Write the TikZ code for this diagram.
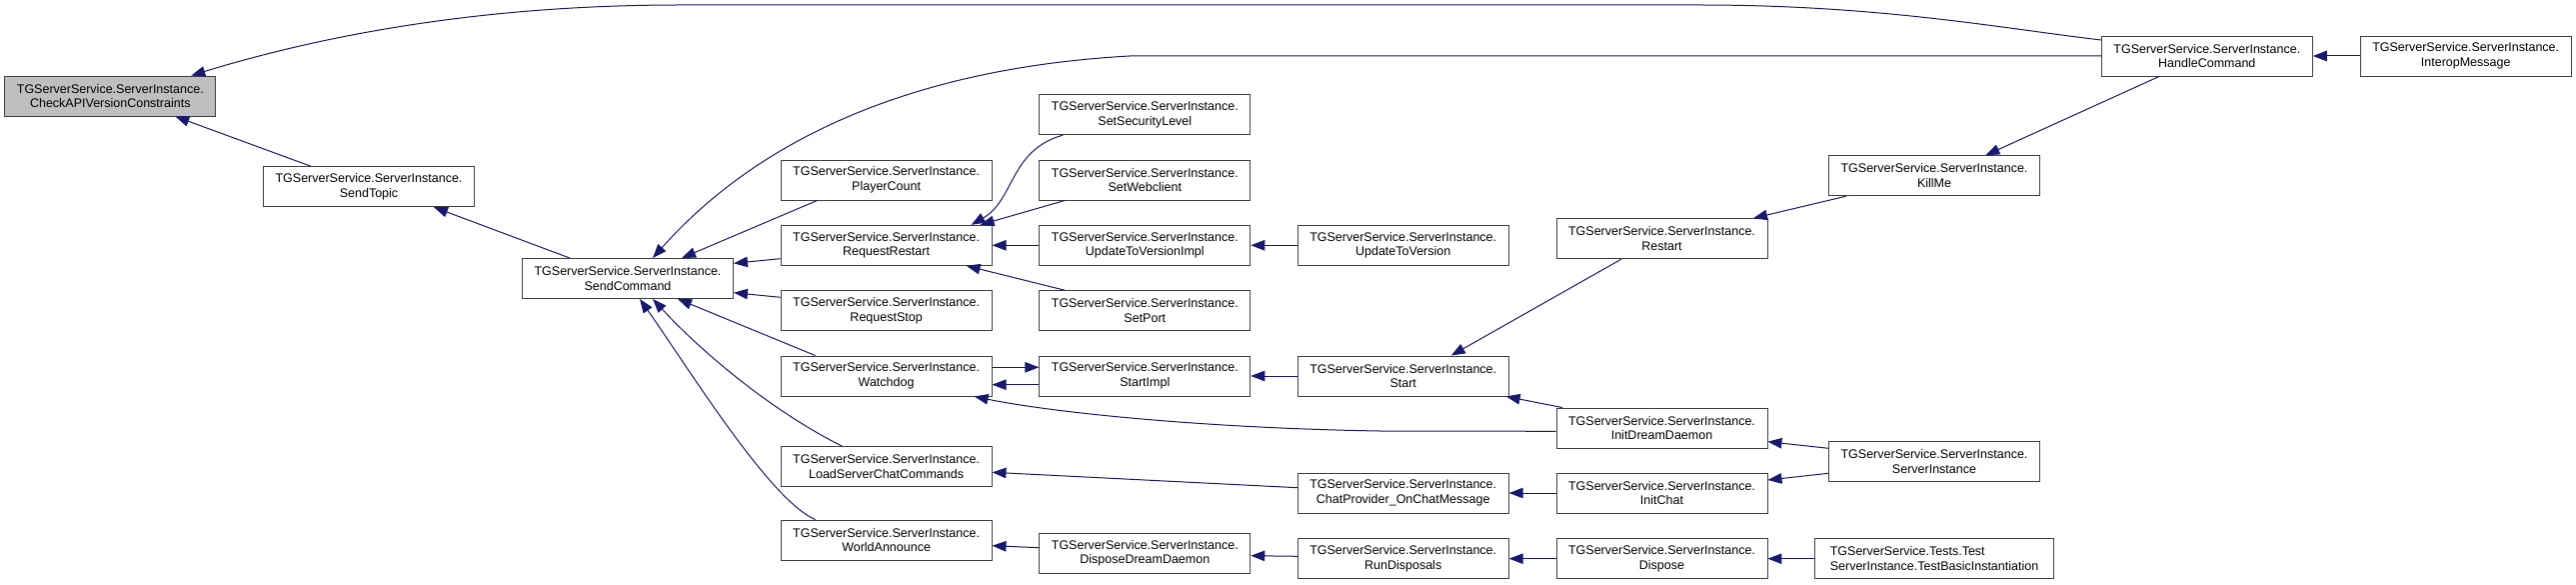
\documentclass[tikz,border=0pt]{standalone}
\usepackage{fontspec}
\setmainfont{Liberation Sans}
\usetikzlibrary{arrows.meta}
\definecolor{edgeblue}{RGB}{25,25,112}

\begin{document}
\begin{tikzpicture}[x=1pt, y=-1pt,
  fn/.style={draw=black!75, fill=white, line width=0.9pt, minimum width=211pt,
    minimum height=40pt, inner sep=0pt, align=center,
    font=\fontsize{12.5}{14.5}\selectfont},
  root/.style={fn, fill=gray!50},
  call/.style={draw=edgeblue, line width=1pt, arrows={Triangle[length=14pt, width=10.5pt]-}},
  callfwd/.style={draw=edgeblue, line width=1pt, arrows={-Triangle[length=14pt, width=10.5pt]}}
]
\useasboundingbox (0,0) rectangle (2577,585);

% Functions, one column per call depth
\node[root] (check) at (110.3,96) {TGServerService.ServerInstance.\\CheckAPIVersionConstraints};
\node[fn] (topic) at (369,186.7) {TGServerService.ServerInstance.\\SendTopic};
\node[fn] (sendcmd) at (628,278.5) {TGServerService.ServerInstance.\\SendCommand};

\node[fn] (players) at (886.6,180) {TGServerService.ServerInstance.\\PlayerCount};
\node[fn] (reqrestart) at (886.6,245.3) {TGServerService.ServerInstance.\\RequestRestart};
\node[fn] (reqstop) at (886.6,310.7) {TGServerService.ServerInstance.\\RequestStop};
\node[fn] (watchdog) at (886.6,376) {TGServerService.ServerInstance.\\Watchdog};
\node[fn] (loadchat) at (886.6,466.7) {TGServerService.ServerInstance.\\LoadServerChatCommands};
\node[fn] (worldann) at (886.6,540) {TGServerService.ServerInstance.\\WorldAnnounce};

\node[fn] (seclevel) at (1145.3,114.7) {TGServerService.ServerInstance.\\SetSecurityLevel};
\node[fn] (webclient) at (1145.3,180) {TGServerService.ServerInstance.\\SetWebclient};
\node[fn] (updimpl) at (1145.3,245.3) {TGServerService.ServerInstance.\\UpdateToVersionImpl};
\node[fn] (setport) at (1145.3,310.7) {TGServerService.ServerInstance.\\SetPort};
\node[fn] (startimpl) at (1145.3,376) {TGServerService.ServerInstance.\\StartImpl};
\node[fn] (disposedd) at (1145.3,553.3) {TGServerService.ServerInstance.\\DisposeDreamDaemon};

\node[fn] (updver) at (1403.7,245.3) {TGServerService.ServerInstance.\\UpdateToVersion};
\node[fn] (start) at (1403.7,376) {TGServerService.ServerInstance.\\Start};
\node[fn] (chatprov) at (1403.7,493) {TGServerService.ServerInstance.\\ChatProvider\_OnChatMessage};
\node[fn] (rundisp) at (1403.7,558.7) {TGServerService.ServerInstance.\\RunDisposals};

\node[fn] (restart) at (1662.5,238.7) {TGServerService.ServerInstance.\\Restart};
\node[fn] (initdd) at (1662.5,428) {TGServerService.ServerInstance.\\InitDreamDaemon};
\node[fn] (initchat) at (1662.5,493) {TGServerService.ServerInstance.\\InitChat};
\node[fn] (dispose) at (1662.5,558.7) {TGServerService.ServerInstance.\\Dispose};

\node[fn] (killme) at (1935,175.7) {TGServerService.ServerInstance.\\KillMe};
\node[fn] (srvinst) at (1935,461.3) {TGServerService.ServerInstance.\\ServerInstance};
\node[fn, minimum width=239pt, align=left] (testbasic) at (1935,558.7) {TGServerService.Tests.Test\\ServerInstance.TestBasicInstantiation};

\node[fn] (handle) at (2207.8,56) {TGServerService.ServerInstance.\\HandleCommand};
\node[fn] (interop) at (2466.7,56) {TGServerService.ServerInstance.\\InteropMessage};

% Callers point back to callees
\draw[call] ([xshift=81]check.north) .. controls (340,30) and (500,5) .. (680,5)
  -- (1700,5) .. controls (1880,5) and (2000,28) .. ([yshift=16]handle.west);
\draw[call] ([xshift=65]check.south) -- ([xshift=-58]topic.north);
\draw[call] ([xshift=65]topic.south) -- ([xshift=-58]sendcmd.north);

\draw[call] ([xshift=25]sendcmd.north) .. controls (740,160) and (880,70) .. (1130,56) -- (handle.west);
\draw[call] ([xshift=54]sendcmd.north) -- ([xshift=-69]players.south);
\draw[call] ([yshift=15.2]sendcmd.east) -- ([yshift=-13.4]reqrestart.west);
\draw[call] ([yshift=-14.2]sendcmd.east) -- ([yshift=13.4]reqstop.west);
\draw[call] ([xshift=50]sendcmd.south) -- ([xshift=-71]watchdog.north);
\draw[call] ([xshift=25]sendcmd.south) .. controls (700,350) and (770,410) .. ([xshift=-44]loadchat.north);
\draw[call] ([xshift=12]sendcmd.south) .. controls (690,370) and (770,500) .. ([xshift=-71]worldann.north);

\draw[call] ([xshift=85]reqrestart.north) .. controls (1015,200) and (1010,150) .. ([xshift=-82]seclevel.south);
\draw[call] ([xshift=94]reqrestart.north) -- ([xshift=-80]webclient.south);
\draw[call] (reqrestart.east) -- (updimpl.west);
\draw[call] ([xshift=80]reqrestart.south) -- ([xshift=-80]setport.north);
\draw[call] (updimpl.east) -- (updver.west);

\draw[callfwd] ([yshift=8.7]watchdog.east) -- ([yshift=8.7]startimpl.west);
\draw[call] ([yshift=-8.7]watchdog.east) -- ([yshift=-8.7]startimpl.west);
\draw[call] ([xshift=88]watchdog.south) .. controls (1050,412) and (1200,428) .. (1380,431) -- ([yshift=-3.3]initdd.west);
\draw[call] (startimpl.east) -- (start.west);
\draw[call] ([xshift=48]start.north) -- ([xshift=-40.5]restart.south);
\draw[call] ([xshift=-3]start.south east) -- ([xshift=-99.5]initdd.north);
\draw[call] ([xshift=91.5]restart.north) -- ([xshift=-88]killme.south);
\draw[call] ([xshift=51.4]killme.north) -- ([xshift=-47.8]handle.south);
\draw[call] (handle.east) -- (interop.west);

\draw[call] ([yshift=-13.7]initdd.east) -- ([yshift=13]srvinst.west);
\draw[call] ([yshift=13]initchat.east) -- ([yshift=-12]srvinst.west);
\draw[call] (chatprov.east) -- (initchat.west);
\draw[call] ([yshift=-5.6]loadchat.east) -- ([yshift=5.3]chatprov.west);
\draw[call] ([yshift=-5.7]worldann.east) -- ([yshift=5.6]disposedd.west);
\draw[call] ([yshift=-2.4]disposedd.east) -- ([yshift=2.4]rundisp.west);
\draw[call] (rundisp.east) -- (dispose.west);
\draw[call] (dispose.east) -- (testbasic.west);
\end{tikzpicture}
\end{document}
